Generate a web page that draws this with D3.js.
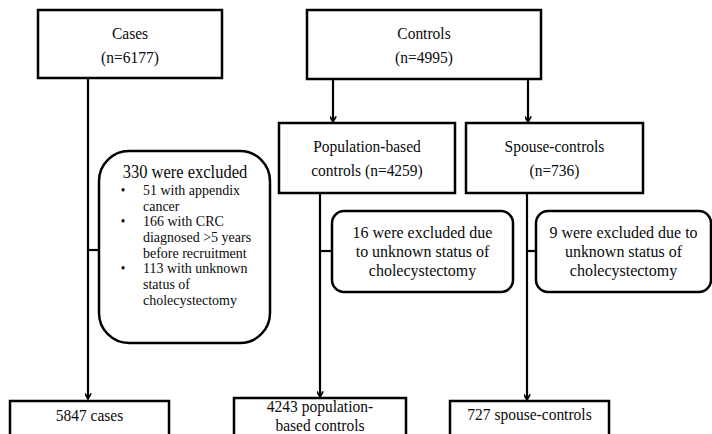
<!DOCTYPE html>
<html lang="en">
<head>
    <meta charset="UTF-8">
    <title>Flowchart</title>
    <script type="text/javascript" src="https://cdn.jsdelivr.net/npm/d3@7/dist/d3.min.js"></script>
    <style>
        body { margin: 0; background: #fff; }
        .box { fill: #fff; stroke: #000; stroke-width: 2.5; }
        .link { fill: none; stroke: #000; stroke-width: 2.2; }
        svg text { font-family: 'Liberation Serif', 'Times New Roman', Times, serif; fill: #0a0a0a; }
    </style>
</head>
<body>
<script type="text/javascript">
	let width = 712;
	let height = 434;

	// data
	let groups = ['Cases', 'Controls'];
	let groupN = [6177, 4995];
	let subgroupN = [4259, 736];
	let excludedN = [330, 16, 9];
	let caseReasonN = [51, 166, 113];
	let caseReasonText = [
		['with appendix', 'cancer'],
		['with CRC', 'diagnosed >5 years', 'before recruitment'],
		['with unknown', 'status of', 'cholecystectomy']
	];
	let finalN = [5847, 4243, 727];

	// the source glyphs are a bit taller than wide
	let stretch = 1.1;

	let svg = d3.select('body')
		.append('svg')
		.attr('width', width)
		.attr('height', height)
		.attr('font-family', "'Liberation Serif', serif");

	svg.append('defs').append('marker')
		.attr('id', 'arrow')
		.attr('viewBox', '0 0 10 10')
		.attr('refX', 9)
		.attr('refY', 5)
		.attr('markerWidth', 7)
		.attr('markerHeight', 7)
		.attr('markerUnits', 'userSpaceOnUse')
		.attr('orient', 'auto')
		.append('path')
		.attr('d', 'M1,0.5 L9,5 L1,9.5')
		.attr('fill', 'none')
		.attr('stroke', '#000')
		.attr('stroke-width', 2.4);

	function addText(sel, x, y, size, anchor, s) {
		return sel.append('text')
			.attr('x', x)
			.attr('y', y)
			.attr('text-anchor', anchor)
			.attr('font-size', size * stretch)
			.attr('transform', 'translate(' + x + ',0) scale(' + (1 / stretch) + ',1) translate(' + (-x) + ',0)')
			.text(s);
	}

	// boxes (layout only)
	let boxes = [
		{x: 38, y: 10, w: 184, h: 68, r: 0, size: 15.5, lh: 24, first: 39,
			lines: [groups[0], '(n=' + groupN[0] + ')']},
		{x: 307, y: 10, w: 234, h: 69, r: 0, size: 15.5, lh: 24, first: 39,
			lines: [groups[1], '(n=' + groupN[1] + ')']},
		{x: 279, y: 123, w: 176, h: 70, r: 0, size: 15.5, lh: 24, first: 152,
			lines: ['Population-based', 'controls (n=' + subgroupN[0] + ')']},
		{x: 466, y: 123, w: 177, h: 70, r: 0, size: 15.5, lh: 24, first: 152,
			lines: ['Spouse-controls', '(n=' + subgroupN[1] + ')']},
		{x: 332, y: 211, w: 181, h: 81, r: 12, size: 16, lh: 19, first: 238,
			lines: [excludedN[1] + ' were excluded due', 'to unknown status of', 'cholecystectomy']},
		{x: 536, y: 211, w: 175, h: 81, r: 12, size: 16, lh: 19, first: 238,
			lines: [excludedN[2] + ' were excluded due to', 'unknown status of', 'cholecystectomy']},
		{x: 10, y: 401, w: 159, h: 40, r: 0, size: 15.5, lh: 18, first: 421,
			lines: [finalN[0] + ' cases']},
		{x: 234, y: 398, w: 172, h: 40, r: 0, size: 15.5, lh: 19, first: 412,
			lines: [finalN[1] + ' population-', 'based controls']},
		{x: 450, y: 401, w: 159, h: 40, r: 0, size: 15.5, lh: 18, first: 420,
			lines: [finalN[2] + ' spouse-controls']}
	];

	// connectors
	let links = [
		{pts: [[88, 78], [88, 399]], arrow: true},
		{pts: [[88, 250], [99, 250]], arrow: false},
		{pts: [[333, 79], [333, 122]], arrow: true},
		{pts: [[528, 79], [528, 122]], arrow: true},
		{pts: [[320, 193], [320, 397]], arrow: true},
		{pts: [[320, 251], [332, 251]], arrow: false},
		{pts: [[527, 193], [527, 400]], arrow: true},
		{pts: [[527, 251], [536, 251]], arrow: false}
	];

	let line = d3.line();
	svg.selectAll('path.link')
		.data(links)
		.enter()
		.append('path')
		.attr('class', 'link')
		.attr('d', function (d) { return line(d.pts); })
		.attr('marker-end', function (d) { return d.arrow ? 'url(#arrow)' : null; });

	let g = svg.selectAll('g.node')
		.data(boxes)
		.enter()
		.append('g')
		.attr('class', 'node');

	g.append('rect')
		.attr('class', 'box')
		.attr('x', function (d) { return d.x; })
		.attr('y', function (d) { return d.y; })
		.attr('width', function (d) { return d.w; })
		.attr('height', function (d) { return d.h; })
		.attr('rx', function (d) { return d.r; });

	g.each(function (d) {
		let node = d3.select(this);
		d.lines.forEach(function (s, i) {
			addText(node, d.x + d.w / 2, d.first + i * d.lh, d.size, 'middle', s);
		});
	});

	// exclusion box for cases with bullet list
	let ex = {x: 99, y: 151, w: 171, h: 192, r: 30};
	svg.append('rect')
		.attr('class', 'box')
		.attr('x', ex.x)
		.attr('y', ex.y)
		.attr('width', ex.w)
		.attr('height', ex.h)
		.attr('rx', ex.r);

	addText(svg, 185, 178, 16.5, 'middle', excludedN[0] + ' were excluded');

	let lineY = 195;
	let lineH = 15.7;
	caseReasonN.forEach(function (n, i) {
		addText(svg, 123, lineY, 13, 'middle', '\u2022');
		caseReasonText[i].forEach(function (s, j) {
			addText(svg, 143, lineY, 14, 'start', j === 0 ? n + ' ' + s : s);
			lineY += lineH;
		});
	});
</script>
</body>
</html>
